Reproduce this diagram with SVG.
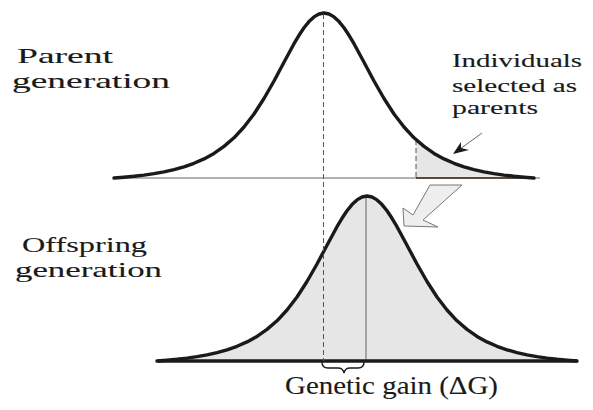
<svg xmlns="http://www.w3.org/2000/svg" width="593" height="410" viewBox="0 0 593 410">
<defs>
<style>
.curve{fill:none;stroke:#1a1a1a;stroke-width:3.4;stroke-linejoin:round;stroke-linecap:round}
.shade{fill:#e6e6e6;stroke:none}
.dash{stroke:#555;stroke-width:1;stroke-dasharray:5 3;fill:none}
.thin{stroke:#666;stroke-width:1;fill:none}
text{font-family:"Liberation Serif","Times New Roman",Times,serif;fill:#1a1a1a;stroke:#1a1a1a;stroke-width:0.12}
</style>
<polyline id="bell" points="114,178 124,177.2 134,176.3 144,175.1 154,173.6 164,171.8 174,169.6 184,166.8 194,163.3 204,158.9 214,153.4 224,146.4 234,137.8 244,127 254,114 264,98.5 274,81 284,62.2 294,43.7 299,35.3 304,27.8 309,21.6 314,16.9 319,14 324,13 329,14 334,16.9 339,21.6 344,27.8 349,35.3 354,43.7 364,62.2 374,81 384,98.5 394,114 404,127 414,137.8 424,146.4 434,153.4 444,158.9 454,163.3 464,166.8 474,169.6 484,171.8 494,173.6 504,175.1 514,176.3 524,177.2 534,178"/>
</defs>
<rect width="593" height="410" fill="#ffffff"/>

<g id="parent-distribution">
  <polygon class="shade" points="416,178 416,139.5 424,146.4 434,153.4 444,158.9 454,163.3 464,166.8 474,169.6 484,171.8 494,173.6 504,175.1 514,176.3 524,177.2 534,178"/>
  <line class="thin" x1="114" y1="178" x2="540" y2="178"/>
  <line x1="416" y1="178" x2="534" y2="178" stroke="#3a2a1a" stroke-width="1.6"/>
  <line class="dash" x1="416" y1="140" x2="416" y2="178" stroke-dasharray="3 2"/>
  <use href="#bell" class="curve"/>
</g>

<g id="offspring-distribution">
  <g transform="translate(43,183)">
    <use href="#bell" class="shade"/>
  </g>
  <line class="thin" x1="366" y1="196" x2="366" y2="361"/>
  <g transform="translate(43,183)">
    <use href="#bell" class="curve"/>
  </g>
  <line x1="158" y1="361" x2="577" y2="361" stroke="#1a1a1a" stroke-width="3.6"/>
</g>

<g id="label-parent">
  <text font-size="22" x="17" y="63" textLength="96" lengthAdjust="spacingAndGlyphs">Parent</text>
  <text font-size="22" x="12" y="88" textLength="158" lengthAdjust="spacingAndGlyphs">generation</text>
</g>

<g id="label-offspring">
  <text font-size="22" x="22" y="252" textLength="125" lengthAdjust="spacingAndGlyphs">Offspring</text>
  <text font-size="22" x="15" y="277" textLength="147" lengthAdjust="spacingAndGlyphs">generation</text>
</g>

<g id="label-selected">
  <text font-size="19" x="452" y="67" textLength="130" lengthAdjust="spacingAndGlyphs">Individuals</text>
  <text font-size="19" x="452" y="92" textLength="125" lengthAdjust="spacingAndGlyphs">selected as</text>
  <text font-size="19" x="452" y="114" textLength="86" lengthAdjust="spacingAndGlyphs">parents</text>
</g>

<g id="label-gain">
  <text font-size="26" x="285" y="394" textLength="213" lengthAdjust="spacingAndGlyphs">Genetic gain (ΔG)</text>
</g>

<g id="connectors">
  <line class="dash" x1="323.5" y1="14" x2="323.5" y2="361" stroke-dasharray="6 3"/>
  <line x1="482" y1="133" x2="460" y2="149" stroke="#666" stroke-width="1"/>
  <polygon points="453,154 461,142 461,148 469,150" fill="#1a1a1a"/>
  <polygon points="430,185 462,185 423,220 438,227 404,226 403,208 413,215" fill="#eeeeee" stroke="#777" stroke-width="1" stroke-linejoin="miter"/>
  <path d="M322,362 Q322,368 328,368 L338,368 Q343,368 344,373 Q345,368 350,368 L358,368 Q364,368 364,362" fill="none" stroke="#1a1a1a" stroke-width="1.4"/>
</g>
</svg>
